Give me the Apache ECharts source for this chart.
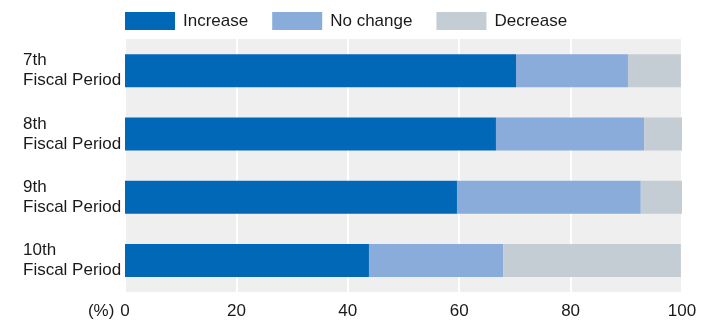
<!DOCTYPE html>
<html>
<head>
<meta charset="utf-8">
<script src="https://cdn.jsdelivr.net/npm/echarts@6/dist/echarts.min.js"></script>
<style>html,body{margin:0;padding:0;background:#fff;}#c{width:722px;height:320px;}</style>
</head>
<body>
<div id="c"></div>
<script>
const categories = ['7th\nFiscal Period', '8th\nFiscal Period', '9th\nFiscal Period', '10th\nFiscal Period'];
const seriesNames = ['Increase', 'No change', 'Decrease'];
const increase = [70.2, 66.6, 59.6, 43.8];
const noChange = [20.1, 26.6, 33.0, 24.1];
const decrease = [9.5, 6.8, 7.4, 31.9];
const xTicks = [0, 20, 40, 60, 80, 100];

const FONT = '"Liberation Sans", Arial, sans-serif';
const TXT = '#1a1a1a';
const colors = ['#0068b7', '#8aacdb', '#c4ccd4'];

const chart = echarts.init(document.getElementById('c'), null, {renderer: 'canvas'});
chart.setOption({
  animation: false,
  color: colors,
  textStyle: {fontFamily: FONT, color: TXT},
  legend: {
    left: 125, top: 12, padding: 0,
    itemWidth: 50, itemHeight: 18, itemGap: 24,
    icon: 'rect',
    data: seriesNames,
    textStyle: {fontFamily: FONT, fontSize: 17, color: TXT, padding: [0, 0, 0, 3]}
  },
  grid: {
    left: 125, right: 40, top: 39, bottom: 27,
    show: true, backgroundColor: '#efefef', borderWidth: 0
  },
  xAxis: {
    type: 'value', min: xTicks[0], max: xTicks[xTicks.length - 1], interval: 20,
    name: '(%)', nameLocation: 'start', nameGap: 9,
    nameTextStyle: {fontFamily: FONT, fontSize: 17, color: TXT, verticalAlign: 'top', padding: [11, 0, 0, 0]},
    axisLine: {show: false}, axisTick: {show: false},
    axisLabel: {fontFamily: FONT, fontSize: 17, color: TXT, margin: 11},
    splitLine: {show: true, lineStyle: {color: '#ffffff', width: 2}}
  },
  yAxis: {
    type: 'category', inverse: true, data: categories,
    axisLine: {show: false}, axisTick: {show: false},
    axisLabel: {fontFamily: FONT, fontSize: 17, lineHeight: 20, color: TXT, align: 'left', margin: 102}
  },
  series: [
    {name: seriesNames[0], type: 'bar', stack: 't', barWidth: 33, data: increase},
    {name: seriesNames[1], type: 'bar', stack: 't', barWidth: 33, data: noChange},
    {name: seriesNames[2], type: 'bar', stack: 't', barWidth: 33, data: decrease}
  ]
});
</script>
</body>
</html>
